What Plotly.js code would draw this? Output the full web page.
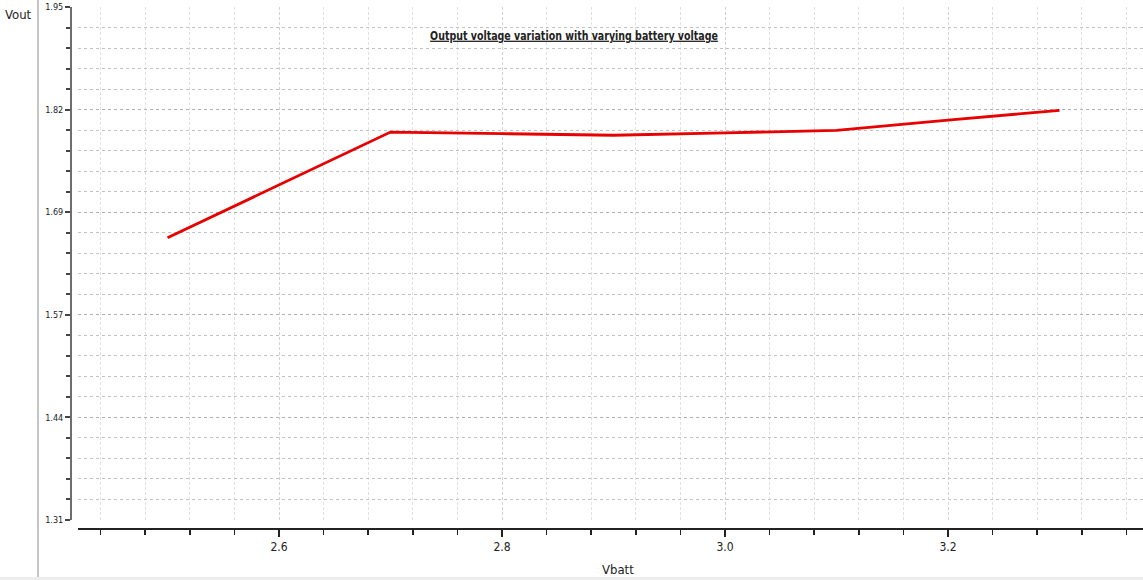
<!DOCTYPE html>
<html>
<head>
<meta charset="utf-8">
<script src="https://cdn.plot.ly/plotly-3.0.1.min.js"></script>
<style>
  html, body { margin: 0; padding: 0; background: #ffffff; }
  #chart { width: 1143px; height: 580px; }
</style>
</head>
<body>
<div id="chart"></div>
<script>
// Output voltage measured against battery voltage
const vbatt = [2.5, 2.7, 2.8, 2.9, 3.0, 3.1, 3.2, 3.3];
const vout = [1.662, 1.794, 1.792, 1.790, 1.793, 1.796, 1.809, 1.821];

// Axis tick positions and labels
const xTickVals = [2.6, 2.8, 3.0, 3.2];
const xTickText = ['2.6', '2.8', '3.0', '3.2'];
const yTickVals = [1.31, 1.438, 1.566, 1.694, 1.822, 1.95];
const yTickText = ['1.31', '1.44', '1.57', '1.69', '1.82', '1.95'];

const W = 1143, H = 580;
const narrow = '"Liberation Sans Narrow", "DejaVu Sans Condensed", "Liberation Sans", sans-serif';
const titleCenterX = 574;

const trace = {
  x: vbatt,
  y: vout,
  type: 'scatter',
  mode: 'lines',
  line: { color: 'rgb(232,0,0)', width: 2.8 },
  hoverinfo: 'x+y',
  showlegend: false
};

const layout = {
  width: W,
  height: H,
  margin: { l: 0, r: 0, t: 0, b: 0 },
  paper_bgcolor: '#ffffff',
  plot_bgcolor: '#ffffff',
  showlegend: false,
  title: {
    text: 'Output voltage variation with varying battery voltage',
    font: { family: narrow, size: 13, color: '#222222', weight: 'bold', lineposition: 'under' },
    xref: 'paper', yref: 'paper',
    x: titleCenterX / W, xanchor: 'center',
    y: 1 - 35 / H, yanchor: 'middle'
  },
  xaxis: {
    domain: [78 / W, 1],
    range: [2.4197, 3.3749],
    anchor: 'free',
    position: (H - 529) / H,
    showline: true, linecolor: '#222222', linewidth: 2,
    zeroline: false,
    tickmode: 'array', tickvals: xTickVals, ticktext: xTickText,
    ticks: 'outside', ticklen: 7, tickwidth: 1.5, tickcolor: '#222222',
    tickfont: { family: narrow, size: 12, color: '#222222' },
    showgrid: true, gridcolor: '#d2d2d2', gridwidth: 1, griddash: '3px,2px',
    minor: {
      tick0: 2.6, dtick: 0.04,
      ticks: 'outside', ticklen: 5, tickwidth: 1.5, tickcolor: '#222222',
      showgrid: true, gridcolor: '#e0e0e0', gridwidth: 1, griddash: '3px,2px'
    },
    automargin: false,
    fixedrange: true
  },
  yaxis: {
    domain: [1 - 520 / H, 1 - 7 / H],
    range: [1.31, 1.95],
    anchor: 'free',
    position: 71 / W,
    showline: true, linecolor: '#6e6e6e', linewidth: 2,
    zeroline: false,
    tickmode: 'array', tickvals: yTickVals, ticktext: yTickText,
    ticks: 'outside', ticklen: 5, tickwidth: 2, tickcolor: '#444444',
    tickfont: { family: narrow, size: 9, color: '#222222' },
    showgrid: true, gridcolor: '#b0b0b0', gridwidth: 1, griddash: 'dot',
    minor: {
      tick0: 1.31, dtick: 0.0256,
      ticks: 'outside', ticklen: 4, tickwidth: 2, tickcolor: '#444444',
      showgrid: true, gridcolor: '#c2c2c2', gridwidth: 1, griddash: 'dot'
    },
    automargin: false,
    fixedrange: true
  },
  annotations: [
    {
      text: 'Vout', showarrow: false,
      xref: 'paper', yref: 'paper',
      x: 3 / W, xanchor: 'left',
      y: 1 - 15 / H, yanchor: 'middle',
      font: { family: narrow, size: 13, color: '#222222' }
    },
    {
      text: 'Vbatt', showarrow: false,
      xref: 'paper', yref: 'paper',
      x: 618 / W, xanchor: 'center',
      y: 1 - 569 / H, yanchor: 'middle',
      font: { family: narrow, size: 13, color: '#222222' }
    }
  ],
  shapes: [
    // window frame edge on the left
    {
      type: 'line', xref: 'paper', yref: 'paper',
      x0: 38 / W, x1: 38 / W, y0: 0, y1: 1,
      line: { color: '#c6c6c6', width: 2 }
    },
    // bottom frame strip
    {
      type: 'line', xref: 'paper', yref: 'paper',
      x0: 0, x1: 1, y0: 1.5 / H, y1: 1.5 / H,
      line: { color: '#ececec', width: 3 }
    }
  ]
};

Plotly.newPlot('chart', [trace], layout, { displayModeBar: false, staticPlot: true }).then(function (gd) {
  // narrow the heading horizontally around its centre
  const t = gd.querySelector('.gtitle');
  if (t) {
    t.setAttribute('transform',
      'translate(' + titleCenterX + ' 0) scale(0.81 1) translate(' + (-titleCenterX) + ' 0)');
  }
});
</script>
</body>
</html>
